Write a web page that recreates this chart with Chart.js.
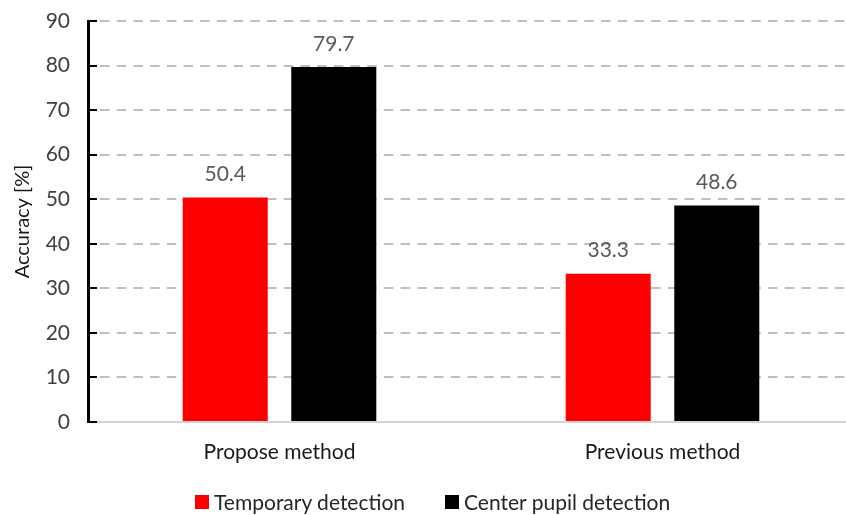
<!DOCTYPE html>
<html lang="en">
    <head>
        <meta charset="UTF-8" />
        <title>Accuracy</title>
        <script src="https://cdn.jsdelivr.net/npm/chart.js@4.4.0/dist/chart.umd.min.js"></script>
        <style>
            html, body { margin: 0; padding: 0; background: #fff; overflow: hidden; }
            .wrap { position: relative; width: 854px; height: 515px; }
            #legend {
                position: absolute; left: 195px; top: 490px;
                display: flex; gap: 40px;
                font: 21px Lato; color: #262626; line-height: 24px;
            }
            #legend span.item { display: flex; align-items: center; gap: 5px; }
            #legend span.box { display: inline-block; width: 14px; height: 14px; }
        </style>
    </head>
    <body>
        <div class="wrap">
            <canvas id="chart" width="854" height="515"></canvas>
            <div id="legend"></div>
        </div>
        <script>
        const methods = ['Propose method', 'Previous method'];
        const temporary = [50.4, 33.3];
        const centerPupil = [79.7, 48.6];
        const yTicks = [0, 10, 20, 30, 40, 50, 60, 70, 80, 90];

        const font = 'Lato';

        // value above each bar
        const valueLabels = {
            id: 'valueLabels',
            afterDatasetsDraw(chart) {
                const ctx = chart.ctx;
                ctx.save();
                ctx.font = '21px ' + font;
                ctx.fillStyle = '#595959';
                ctx.textAlign = 'center';
                ctx.textBaseline = 'middle';
                chart.data.datasets.forEach((ds, i) => {
                    chart.getDatasetMeta(i).data.forEach((bar, j) => {
                        ctx.fillText(ds.data[j].toFixed(1), bar.x, bar.y - 23);
                    });
                });
                ctx.restore();
            }
        };

        // short tick marks pointing into the plot
        const innerTicks = {
            id: 'innerTicks',
            afterDraw(chart) {
                const y = chart.scales.y;
                const ctx = chart.ctx;
                ctx.save();
                ctx.strokeStyle = '#000';
                ctx.lineWidth = 2;
                yTicks.forEach(v => {
                    const py = Math.round(y.getPixelForValue(v));
                    ctx.beginPath();
                    ctx.moveTo(chart.chartArea.left - 1, py);
                    ctx.lineTo(chart.chartArea.left + 9, py);
                    ctx.stroke();
                });
                ctx.restore();
            }
        };

        const ctx = document.getElementById('chart').getContext('2d');
        const myChart = new Chart(ctx, {
            type: 'bar',
            data: {
                labels: methods,
                datasets: [{
                    label: 'Temporary detection',
                    data: temporary,
                    backgroundColor: '#ff0000'
                }, {
                    label: 'Center pupil detection',
                    data: centerPupil,
                    backgroundColor: '#000000'
                }]
            },
            options: {
                responsive: false,
                animation: false,
                categoryPercentage: 0.567,
                barPercentage: 0.783,
                layout: { padding: { top: 21, right: 0, bottom: 49, left: 0 } },
                plugins: {
                    tooltip: { enabled: false },
                    legend: { display: false }
                },
                scales: {
                    x: {
                        grid: { display: false },
                        border: { color: '#d4d4d4', width: 2 },
                        ticks: {
                            font: { family: font, size: 21 },
                            color: '#1a1a1a',
                            padding: 10
                        },
                        afterFit(scale) { scale.height = 44; }
                    },
                    y: {
                        min: 0,
                        max: 90,
                        afterBuildTicks(scale) {
                            scale.ticks = yTicks.map(v => ({ value: v }));
                        },
                        afterFit(scale) {
                            scale.width = 88;
                            scale.paddingTop = 0;
                        },
                        grid: {
                            color: '#bfbfbf',
                            lineWidth: 2,
                            drawTicks: false
                        },
                        border: {
                            color: '#000',
                            width: 3,
                            dash: [9.5, 7.2],
                            dashOffset: 6.7
                        },
                        ticks: {
                            font: { family: font, size: 21 },
                            color: '#404040',
                            padding: 18
                        },
                        title: {
                            display: true,
                            text: 'Accuracy [%]',
                            font: { family: font, size: 20 },
                            color: '#1a1a1a',
                            padding: { top: 11, bottom: 0 }
                        }
                    }
                }
            },
            plugins: [valueLabels, innerTicks]
        });

        // legend built from the datasets
        const legend = document.getElementById('legend');
        myChart.data.datasets.forEach(ds => {
            const item = document.createElement('span');
            item.className = 'item';
            const box = document.createElement('span');
            box.className = 'box';
            box.style.background = ds.backgroundColor;
            item.appendChild(box);
            item.appendChild(document.createTextNode(ds.label));
            legend.appendChild(item);
        });
        </script>
    </body>
</html>
